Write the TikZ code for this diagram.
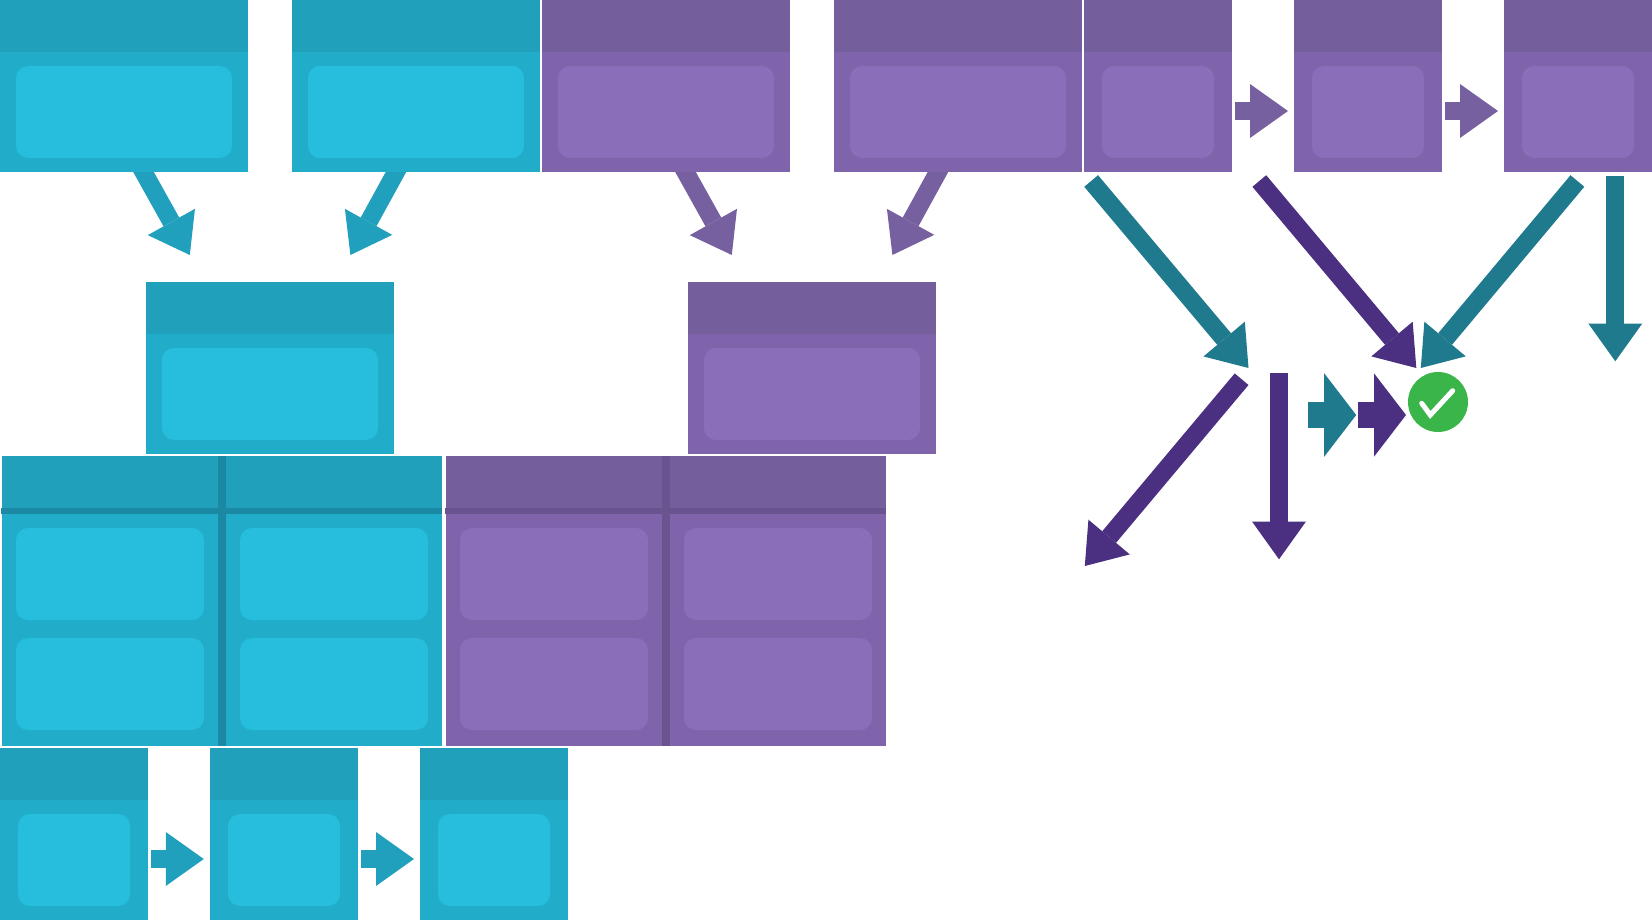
\documentclass[tikz,border=0pt]{standalone}
\usetikzlibrary{arrows.meta}
\definecolor{tealhead}{HTML}{20A0BB}
\definecolor{tealbody}{HTML}{21ACC9}
\definecolor{tealinner}{HTML}{27BEDE}
\definecolor{tealline}{HTML}{1B89A3}
\definecolor{purphead}{HTML}{755E9C}
\definecolor{purpbody}{HTML}{8064AB}
\definecolor{purpinner}{HTML}{8A6EBA}
\definecolor{purpline}{HTML}{69548F}
\definecolor{tealarrow}{HTML}{20A0BD}
\definecolor{purparrow}{HTML}{77609F}
\definecolor{tealdark}{HTML}{207A8D}
\definecolor{purpdark}{HTML}{4B2F80}
\definecolor{okgreen}{HTML}{3AB54A}
\pgfdeclarelayer{arrowlayer}
\pgfsetlayers{arrowlayer,main}
\tikzset{
  box/.style={anchor=north west,inner sep=0pt,outer sep=0pt,draw=none,minimum width=#1},
  innerbox/.style={box=#1,rounded corners=12pt},
  bigarrow/.style={line cap=butt,line width=18pt,-{Triangle[length=37.8pt,width=54pt,line width=0pt]}},
  smallarrow/.style={line cap=butt,line width=18pt,-{Triangle[length=38pt,width=54pt,line width=0pt]}},
  fatarrow/.style={line cap=butt,line width=26pt,-{Triangle[length=32pt,width=83.4pt,line width=0pt]}},
}
% name, x, y, width, margin, theme
\newcommand{\cardbox}[6]{%
  \node[box={#4*1pt},minimum height=172pt,fill=#6body] (#1) at (#2,#3) {};
  \node[box={#4*1pt},minimum height=52pt,fill=#6head] (#1h) at (#2,#3) {};
  \node[innerbox={(#4-2*#5)*1pt},minimum height=92pt,fill=#6inner] (#1i) at (#2+#5,#3+66) {};
}
% name, x, theme
\newcommand{\tablebox}[3]{%
  \node[box=440pt,minimum height=290pt,fill=#3body] (#1) at (#2,456) {};
  \node[box=440pt,minimum height=52pt,fill=#3head] (#1h) at (#2,456) {};
  \node[innerbox=188pt,minimum height=92pt,fill=#3inner] (#1a) at (#2+14,528) {};
  \node[innerbox=188pt,minimum height=92pt,fill=#3inner] (#1b) at (#2+238,528) {};
  \node[innerbox=188pt,minimum height=92pt,fill=#3inner] (#1c) at (#2+14,638) {};
  \node[innerbox=188pt,minimum height=92pt,fill=#3inner] (#1d) at (#2+238,638) {};
  \node[box=8pt,minimum height=290pt,fill=#3line] (#1v) at (#2+216,456) {};
  \node[box=441pt,minimum height=6pt,fill=#3line] (#1l) at (#2-1,508) {};
}
\begin{document}
\begin{tikzpicture}[x=1pt,y=-1pt]
\useasboundingbox (0,0) rectangle (1652,920);
% top row
\cardbox{ca}{0}{0}{248}{16}{teal}
\cardbox{cb}{292}{0}{248}{16}{teal}
\cardbox{cc}{542}{0}{248}{16}{purp}
\cardbox{cd}{834}{0}{248}{16}{purp}
\cardbox{ce}{1084}{0}{148}{18}{purp}
\cardbox{cf}{1294}{0}{148}{18}{purp}
\cardbox{cg}{1504}{0}{148}{18}{purp}
% second row
\cardbox{da}{146}{282}{248}{16}{teal}
\cardbox{db}{688}{282}{248}{16}{purp}
% tables
\tablebox{ta}{2}{teal}
\tablebox{tb}{446}{purp}
% bottom row
\cardbox{ea}{0}{748}{148}{18}{teal}
\cardbox{eb}{210}{748}{148}{18}{teal}
\cardbox{ec}{420}{748}{148}{18}{teal}
% arrow ends
\coordinate (a1s) at (138.6,163.2); \coordinate (a1t) at (189.8,255);
\coordinate (a2s) at (400.8,163.2); \coordinate (a2t) at (350.4,255);
\coordinate (a3s) at (680.6,163.2); \coordinate (a3t) at (731.8,255);
\coordinate (a4s) at (942.8,163.2); \coordinate (a4t) at (892.4,255);
\coordinate (h1s) at (151,859); \coordinate (h1t) at (203.8,859);
\coordinate (h2s) at (361,859); \coordinate (h2t) at (414,859);
\coordinate (h3s) at (1234.8,111); \coordinate (h3t) at (1288,111);
\coordinate (h4s) at (1445,111); \coordinate (h4t) at (1498,111);
\coordinate (d1s) at (1091.15,181); \coordinate (d1t) at (1248.5,368);
\coordinate (d2s) at (1259.3,181); \coordinate (d2t) at (1416.3,368);
\coordinate (d3s) at (1577.4,181); \coordinate (d3t) at (1420.8,368);
\coordinate (d4s) at (1615.3,176); \coordinate (d4t) at (1615.3,361.3);
\coordinate (d5s) at (1241.6,379.2); \coordinate (d5t) at (1084.8,566);
\coordinate (d6s) at (1279,373); \coordinate (d6t) at (1279,559.3);
\coordinate (f1s) at (1308,415); \coordinate (f1t) at (1356.2,415);
\coordinate (f2s) at (1358,415); \coordinate (f2t) at (1406,415);
\begin{pgfonlayer}{arrowlayer}
\draw[bigarrow,tealarrow] (a1s) -- (a1t);
\draw[bigarrow,tealarrow] (a2s) -- (a2t);
\draw[bigarrow,purparrow] (a3s) -- (a3t);
\draw[bigarrow,purparrow] (a4s) -- (a4t);
\end{pgfonlayer}
\draw[smallarrow,tealarrow] (h1s) -- (h1t);
\draw[smallarrow,tealarrow] (h2s) -- (h2t);
\draw[smallarrow,purparrow] (h3s) -- (h3t);
\draw[smallarrow,purparrow] (h4s) -- (h4t);
\draw[bigarrow,tealdark] (d1s) -- (d1t);
\draw[bigarrow,purpdark] (d2s) -- (d2t);
\draw[bigarrow,tealdark] (d3s) -- (d3t);
\draw[bigarrow,tealdark] (d4s) -- (d4t);
\draw[bigarrow,purpdark] (d5s) -- (d5t);
\draw[bigarrow,purpdark] (d6s) -- (d6t);
\draw[fatarrow,tealdark] (f1s) -- (f1t);
\draw[fatarrow,purpdark] (f2s) -- (f2t);
% check badge
\node[circle,fill=okgreen,minimum size=60pt,inner sep=0pt,outer sep=0pt] (ok) at (1438,402) {};
\coordinate (ck1) at (1421.7,403.3);
\coordinate (ck2) at (1430.3,415);
\coordinate (ck3) at (1452.7,390.7);
\draw[white,line width=5pt,line cap=round,line join=miter] (ck1) -- (ck2) -- (ck3);
\end{tikzpicture}
\end{document}
